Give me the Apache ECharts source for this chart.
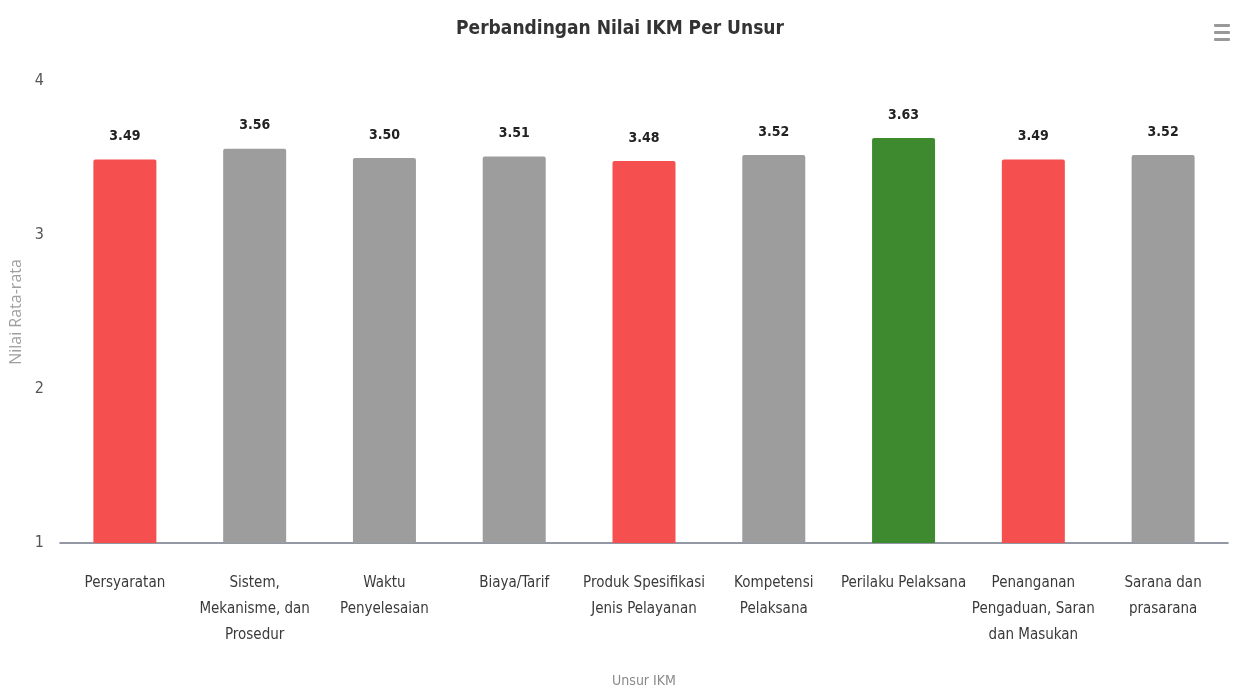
<!DOCTYPE html>
<html><head><meta charset="utf-8">
<script src="https://cdn.jsdelivr.net/npm/echarts@6/dist/echarts.min.js"></script>
<style>html,body{margin:0;padding:0;background:#fff}#c{width:1240px;height:694px}</style>
</head><body><div id="c"></div>
<script>
const categories = ["Persyaratan","Sistem,\nMekanisme, dan\nProsedur","Waktu\nPenyelesaian","Biaya/Tarif","Produk Spesifikasi\nJenis Pelayanan","Kompetensi\nPelaksana","Perilaku Pelaksana","Penanganan\nPengaduan, Saran\ndan Masukan","Sarana dan\nprasarana"];
const values = [3.49,3.56,3.50,3.51,3.48,3.52,3.63,3.49,3.52];
const barColors = ["#f54f4f","#9d9d9d","#9d9d9d","#9d9d9d","#f54f4f","#9d9d9d","#3e8a2f","#f54f4f","#9d9d9d"];
const yTicks = [1,2,3,4];
const FONT = "'Liberation Sans Narrow','DejaVu Sans Condensed',sans-serif";
const chart = echarts.init(document.getElementById('c'));
chart.setOption({
  animation:false,
  title:{text:"Perbandingan Nilai IKM Per Unsur",left:'center',top:15,
    textStyle:{fontFamily:FONT,fontSize:19,fontWeight:'bold',color:'#333'}},
  grid:{left:60,right:12,top:81,bottom:151,containLabel:false,outerBoundsMode:'none'},
  xAxis:{type:'category',data:categories,
    name:'Unsur IKM',nameLocation:'middle',nameGap:131,
    nameTextStyle:{fontFamily:FONT,fontSize:14,color:'#8a8a8a'},
    axisLine:{lineStyle:{color:'#6f7888',width:1.5}},axisTick:{show:false},
    axisLabel:{interval:0,margin:27,fontFamily:FONT,fontSize:15,color:'#3a3a3a',lineHeight:26}},
  yAxis:{type:'value',min:yTicks[0],max:yTicks[yTicks.length-1],interval:1,
    name:'Nilai Rata-rata',nameLocation:'middle',nameGap:34,
    nameTextStyle:{fontFamily:"'Open Sans',sans-serif",fontSize:16,color:'#a0a0a0',padding:[0,0,0,0]},
    splitLine:{show:false},axisLine:{show:false},axisTick:{show:false},
    axisLabel:{margin:16,fontFamily:FONT,fontSize:16,color:'#555'}},
  series:[{type:'bar',barWidth:63,
    data:values.map((v,i)=>({value:v,itemStyle:{color:barColors[i]}})),
    itemStyle:{borderRadius:[2,2,0,0]},
    label:{show:true,position:'top',distance:16,formatter:p=>p.value.toFixed(2),
      fontFamily:FONT,fontSize:14,fontWeight:'bold',color:'#222'}}],
  graphic:[
    {type:'rect',left:1214,top:24,shape:{width:16,height:3,r:1},style:{fill:'#999'}},
    {type:'rect',left:1214,top:31,shape:{width:16,height:3,r:1},style:{fill:'#999'}},
    {type:'rect',left:1214,top:38,shape:{width:16,height:3,r:1},style:{fill:'#999'}}
  ]
});
</script></body></html>
